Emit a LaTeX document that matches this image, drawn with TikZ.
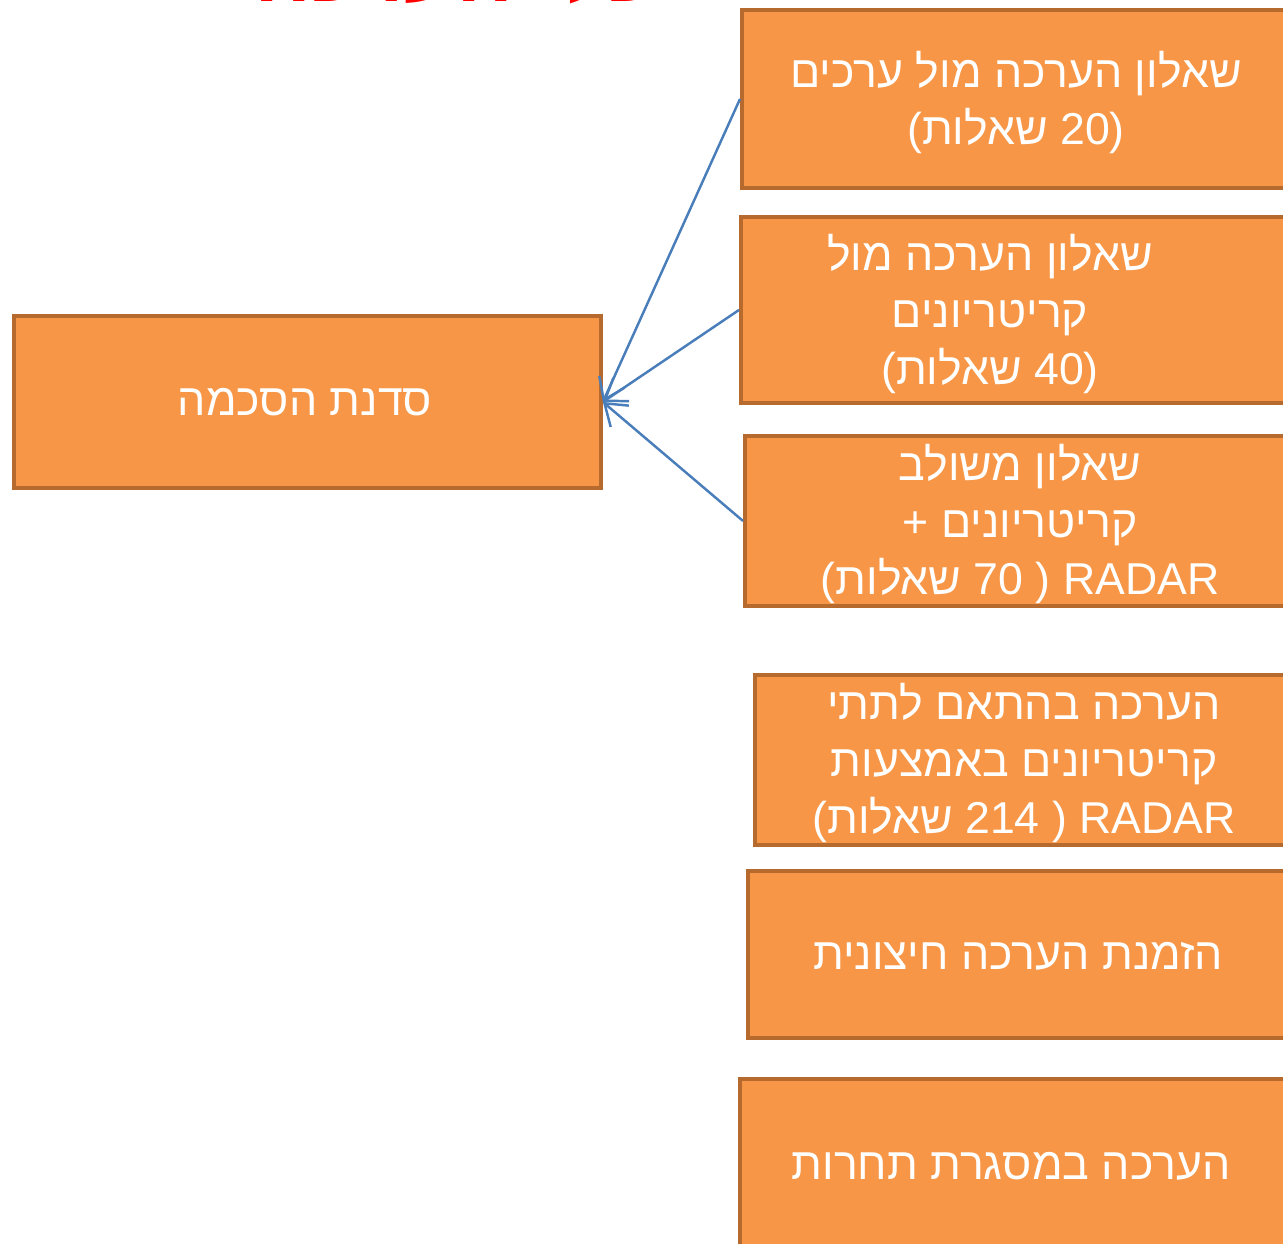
\documentclass[tikz,border=0pt]{standalone}
\usepackage{fontspec}
\setmainfont{Liberation Sans}
\newfontfamily\hebfont[Script=Hebrew]{Liberation Sans}
\TeXXeTstate=1
\usetikzlibrary{arrows.meta, positioning}

\newcommand{\hebline}[1]{\beginR #1\endR}

%--- Define colors ---
\definecolor{colorBox}{RGB}{247,150,70}       % Orange fill
\definecolor{colorBorder}{RGB}{183,106,46}    % Dark orange border
\definecolor{colorArrow}{RGB}{74,126,187}     % Blue connectors
\definecolor{colorTitle}{RGB}{255,0,0}        % Red title

\begin{document}
\begin{tikzpicture}[
    font=\hebfont\fontsize{12.7}{16.2}\selectfont,
    >={Straight Barb[length=2mm,width=2.8mm]},
    block/.style={
        draw=colorBorder,
        fill=colorBox,
        line width=1.1pt,
        anchor=north west,
        inner sep=0pt
    },
    boxtext/.style={
        text=white,
        align=center,
        inner sep=0pt
    },
    link/.style={
        ->,
        draw=colorArrow,
        line width=0.7pt
    }
]
\useasboundingbox (0,0) rectangle (12.83,-12.43);

%------------------------------------
% TITLE (cut off at the top)
%------------------------------------
\node[text=colorTitle, font=\hebfont\bfseries\fontsize{24}{28}\selectfont, anchor=base]
(title) at (4.55,-0.015) {\hebline{כלי הערכה}};

%------------------------------------
% LEFT: AGREEMENT WORKSHOP
%------------------------------------
\node[block, minimum width=5.87cm, minimum height=1.72cm] (workshop) at (0.12,-3.14) {};
\node[boxtext] (workshop_text) at (3.05,-4.02) {\hebline{סדנת הסכמה}};

%------------------------------------
% RIGHT COLUMN: EVALUATION METHODS
%------------------------------------

% 1) Values questionnaire (parentheses are mirrored by the Hebrew font)
\node[block, minimum width=5.60cm, minimum height=1.78cm] (values) at (7.40,-0.08) {};
\node[boxtext] (values_text) at (10.16,-1.02)
{\hebline{שאלון הערכה מול ערכים}\\)\hebline{20 שאלות}(};

% 2) Criteria questionnaire
\node[block, minimum width=5.61cm, minimum height=1.86cm] (criteria) at (7.39,-2.15) {};
\node[boxtext] (criteria_text) at (9.90,-3.14)
{\hebline{שאלון הערכה מול}\\\hebline{קריטריונים}\\)\hebline{40 שאלות}(};

% 3) Combined questionnaire
\node[block, minimum width=5.57cm, minimum height=1.70cm] (combined) at (7.43,-4.34) {};
\node[boxtext] (combined_text) at (10.20,-5.24)
{\hebline{שאלון משולב}\\\hebline{קריטריונים +}\\)\hebline{70 שאלות}\ ( RADAR};

% 4) Sub-criteria evaluation
\node[block, minimum width=5.47cm, minimum height=1.70cm] (subcriteria) at (7.53,-6.73) {};
\node[boxtext] (subcriteria_text) at (10.24,-7.63)
{\hebline{הערכה בהתאם לתתי}\\\hebline{קריטריונים באמצעות}\\)\hebline{214 שאלות}\ ( RADAR};

% 5) External evaluation
\node[block, minimum width=5.54cm, minimum height=1.67cm] (external) at (7.46,-8.69) {};
\node[boxtext] (external_text) at (10.18,-9.56) {\hebline{הזמנת הערכה חיצונית}};

% 6) Competition evaluation
\node[block, minimum width=5.62cm, minimum height=1.85cm] (competition) at (7.38,-10.77) {};
\node[boxtext] (competition_text) at (10.11,-11.66) {\hebline{הערכה במסגרת תחרות}};

%------------------
% EDGES (ARROWS)
%------------------
\draw[link] (values.west) -- (workshop.east);
\draw[link] (criteria.west) -- (workshop.east);
\draw[link] (combined.west) -- (workshop.east);

\end{tikzpicture}
\end{document}
